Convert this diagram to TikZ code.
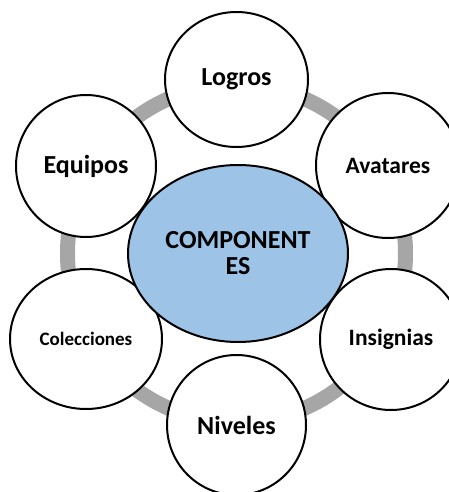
\documentclass[tikz,border=0pt]{standalone}
\usepackage{fontspec}
\setmainfont{Carlito}
\usetikzlibrary{shapes.geometric}
\definecolor{ringgray}{HTML}{A6A6A6}
\definecolor{centerblue}{HTML}{9DC3E6}
\tikzset{
  sat/.style={ellipse, draw=black, line width=2pt, fill=white, inner sep=0pt, font=\bfseries},
  hub/.style={ellipse, draw=black, line width=2pt, fill=centerblue, inner sep=0pt, align=center, font=\bfseries\fontsize{26}{28}\selectfont},
}
\begin{document}
\begin{tikzpicture}[x=1pt,y=-1pt]
\useasboundingbox (0,0) rectangle (449,492);
\draw[ringgray, line width=15pt] (236.5,253.5) circle (169);
\node[sat, minimum width=143pt, minimum height=135pt, font=\bfseries\fontsize{26}{28}\selectfont] (logros) at (236.5,79.5) {Logros};
\node[sat, minimum width=144pt, minimum height=145pt, font=\bfseries\fontsize{23.5}{26}\selectfont] (avatares) at (388,165.5) {Avatares};
\node[sat, minimum width=140pt, minimum height=142pt, font=\bfseries\fontsize{26}{28}\selectfont] (equipos) at (86,166) {Equipos};
\node[sat, minimum width=152pt, minimum height=140pt, font=\bfseries\fontsize{19}{21}\selectfont] (colecciones) at (86,339) {Colecciones};
\node[sat, minimum width=142pt, minimum height=141pt, font=\bfseries\fontsize{23.5}{26}\selectfont] (insignias) at (391,339.5) {Insignias};
\node[sat, minimum width=139pt, minimum height=140pt, font=\bfseries\fontsize{26}{28}\selectfont] (niveles) at (236.5,425) {Niveles};
\node[hub, minimum width=220pt, minimum height=177pt] (hub) at (238,253.5) {COMPONENT\\[-2pt]ES};
\end{tikzpicture}
\end{document}
